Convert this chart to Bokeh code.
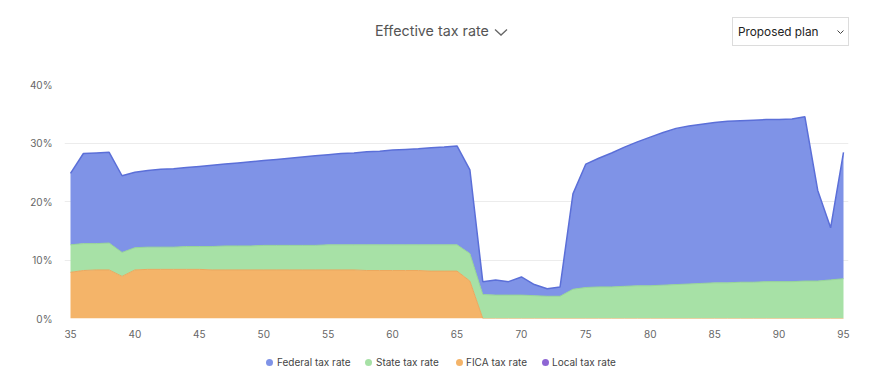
from bokeh.plotting import figure
from bokeh.models import (Range1d, PrintfTickFormatter, Div, FixedTicker, ColumnDataSource)
from bokeh.layouts import column
from bokeh.embed import file_html
from bokeh.resources import INLINE

ages = list(range(35, 96))

# component values (percent), stacked bottom -> top: local, FICA, state, federal
local_rate = [0.0] * 61
fica_rate = [7.9, 8.2, 8.3, 8.3, 7.2, 8.3, 8.4, 8.4, 8.4, 8.4, 8.4, 8.3, 8.3, 8.3, 8.3, 8.3,
             8.3, 8.3, 8.3, 8.3, 8.3, 8.3, 8.3, 8.2, 8.2, 8.2, 8.2, 8.2, 8.1, 8.1, 8.1, 6.4,
             0, 0, 0, 0, 0, 0, 0, 0, 0, 0, 0, 0, 0, 0, 0, 0, 0, 0, 0, 0, 0, 0, 0, 0, 0, 0, 0, 0, 0]
state_rate = [4.7, 4.6, 4.5, 4.6, 4.1, 3.8, 3.8, 3.8, 3.8, 3.9, 3.9, 4.0, 4.1, 4.1, 4.1, 4.2,
              4.2, 4.2, 4.2, 4.2, 4.3, 4.3, 4.3, 4.4, 4.4, 4.4, 4.4, 4.4, 4.5, 4.5, 4.5, 4.7,
              4.1, 4.0, 4.0, 4.0, 3.9, 3.8, 3.8, 5.0, 5.3, 5.4, 5.4, 5.5, 5.6, 5.6, 5.7, 5.8,
              5.9, 6.0, 6.1, 6.1, 6.2, 6.2, 6.3, 6.3, 6.3, 6.4, 6.4, 6.6, 6.8]
federal_rate = [12.2, 15.4, 15.5, 15.5, 13.1, 12.9, 13.1, 13.3, 13.4, 13.5, 13.7, 13.9, 14.0,
                14.2, 14.4, 14.5, 14.7, 14.9, 15.1, 15.3, 15.4, 15.6, 15.7, 15.9, 16.0, 16.2,
                16.3, 16.4, 16.6, 16.7, 16.9, 14.3, 2.2, 2.6, 2.3, 3.1, 1.9, 1.3, 1.6, 16.3,
                21.1, 22.0, 22.9, 23.8, 24.6, 25.4, 26.1, 26.7, 27.0, 27.2, 27.4, 27.6, 27.6,
                27.7, 27.7, 27.7, 27.8, 28.1, 15.5, 8.9, 21.6]

legend_names = ["Federal tax rate", "State tax rate", "FICA tax rate", "Local tax rate"]
y_ticks = [0, 10, 20, 30, 40]
x_ticks = [35, 40, 45, 50, 55, 60, 65, 70, 75, 80, 85, 90, 95]
chart_title = "Effective tax rate"
plan_label = "Proposed plan"

# colours, order: local, fica, state, federal
fills = ["#8e66d4", "#f4b469", "#a7e1a6", "#7f93e7"]
lines = ["#8e66d4", "#eba75e", "#97d596", "#5b6fd8"]

src = ColumnDataSource(dict(age=ages, local=local_rate, fica=fica_rate,
                            state=state_rate, federal=federal_rate))

W, H = 883, 375
HEAD = 60          # header strip height
FIG_BOTTOM = 345   # page y where the figure ends
FL, FR, FT, FB = 64, 848, 84, 318   # frame edges in page pixels

header_html = f"""
<div style="position:relative;width:{W}px;height:{HEAD}px;font-family:Inter,sans-serif;">
  <span style="position:absolute;left:375px;top:21px;font-size:14.3px;line-height:20px;color:#555555;white-space:nowrap;">{chart_title}</span>
  <svg style="position:absolute;left:494px;top:28px;" width="14" height="9">
    <polyline points="1,1.5 7,7 13,1.5" fill="none" stroke="#666666" stroke-width="1.3"/>
  </svg>
  <div style="position:absolute;left:732px;top:17px;width:117px;height:29px;box-sizing:border-box;
              border:1px solid #dcdcdc;background:#ffffff;">
    <span style="position:absolute;left:5px;top:6px;font-size:11.8px;line-height:16px;color:#222222;white-space:nowrap;">{plan_label}</span>
    <svg style="position:absolute;left:104px;top:12px;" width="7" height="5">
      <polyline points="0.5,0.5 3.5,3.5 6.5,0.5" fill="none" stroke="#444444" stroke-width="1"/>
    </svg>
  </div>
</div>
"""
header = Div(text=header_html, width=W, height=HEAD, margin=0)

p = figure(width=W, height=FIG_BOTTOM - HEAD, output_backend="svg", toolbar_location=None,
           x_range=Range1d(34.534, 95.388), y_range=Range1d(0, 40),
           min_border_left=FL, min_border_right=W - FR, min_border_top=FT - HEAD,
           min_border_bottom=FIG_BOTTOM - FB)
p.outline_line_color = None
p.background_fill_color = "white"

stack_keys = ["local", "fica", "state", "federal"]
p.varea_stack(stackers=stack_keys, x="age", color=fills, source=src, fill_alpha=1.0)

# top edges of the stacked areas
cum = [0.0] * len(ages)
tops = []
for k in stack_keys:
    cum = [a + b for a, b in zip(cum, src.data[k])]
    tops.append(list(cum))
p.line(ages, tops[1], line_color=lines[1], line_width=1)
p.line(ages, tops[2], line_color=lines[2], line_width=1)
p.line(ages, tops[3], line_color=lines[3], line_width=1.5)

# axes
p.xaxis.ticker = FixedTicker(ticks=x_ticks)
p.yaxis.ticker = FixedTicker(ticks=y_ticks)
p.yaxis.formatter = PrintfTickFormatter(format="%d%%")
for ax in (p.xaxis[0], p.yaxis[0]):
    ax.axis_line_color = None
    ax.major_tick_line_color = None
    ax.minor_tick_line_color = None
    ax.major_tick_out = 0
    ax.major_tick_in = 0
    ax.major_label_text_font = "Inter"
    ax.major_label_text_font_size = "10px"
    ax.major_label_text_color = "#666666"
p.yaxis.major_label_standoff = 12
p.xaxis.major_label_standoff = 11
p.xgrid.grid_line_color = None
p.ygrid.grid_line_color = "#ececec"
p.ygrid.grid_line_width = 1

# legend strip
LEG_H = H - FIG_BOTTOM
legend_cols = [fills[3], fills[2], fills[1], fills[0]]
dot_x = [269.5, 368, 459, 545]
txt_x = [277, 376, 466, 552]
cy = 362 - FIG_BOTTOM
parts = []
for name, col, dx, tx in zip(legend_names, legend_cols, dot_x, txt_x):
    parts.append(f'<span style="position:absolute;left:{dx - 3.5}px;top:{cy - 3.5}px;width:7px;'
                 f'height:7px;border-radius:50%;background:{col};"></span>')
    parts.append(f'<span style="position:absolute;left:{tx}px;top:{cy - 7}px;font-size:10px;'
                 f'line-height:14px;color:#444444;white-space:nowrap;">{name}</span>')
legend_html = (f'<div style="position:relative;width:{W}px;height:{LEG_H}px;'
               f'font-family:Inter,sans-serif;">' + "".join(parts) + "</div>")
legend_div = Div(text=legend_html, width=W, height=LEG_H, margin=0)

layout = column(header, p, legend_div, spacing=0)
open("out.html", "w").write(file_html(layout, INLINE))
